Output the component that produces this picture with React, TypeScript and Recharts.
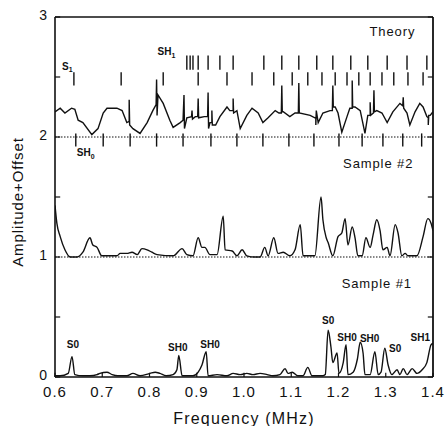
import { ComposedChart, Line, XAxis, YAxis, ReferenceLine, Scatter } from 'recharts';

// x / y axis
const xTicks = [0.6, 0.7, 0.8, 0.9, 1.0, 1.1, 1.2, 1.3, 1.4];
const yTicks = [0, 1, 2, 3];
const yMinorTicks = [0.5, 1.5, 2.5];

// theory curve (offset +2)
const theoryFreq = [
  0.600, 0.611, 0.621, 0.635, 0.642, 0.649, 0.659, 0.678, 0.691, 0.702, 0.710, 0.731, 0.742, 0.752,
  0.757, 0.757, 0.758, 0.765, 0.780, 0.795, 0.807, 0.814, 0.815, 0.816, 0.818, 0.829, 0.843, 0.850,
  0.865, 0.871, 0.873, 0.874, 0.879, 0.889, 0.890, 0.891, 0.897, 0.902, 0.903, 0.904, 0.916, 0.923,
  0.924, 0.925, 0.928, 0.932, 0.932, 0.933, 0.940, 0.949, 0.964, 0.970, 0.977, 0.977, 0.978, 0.985,
  0.992, 1.006, 1.017, 1.030, 1.040, 1.051, 1.066, 1.074, 1.079, 1.080, 1.081, 1.083, 1.097, 1.108,
  1.115, 1.116, 1.117, 1.140, 1.150, 1.152, 1.152, 1.153, 1.157, 1.167, 1.182, 1.187, 1.188, 1.189,
  1.193, 1.199, 1.207, 1.218, 1.224, 1.229, 1.229, 1.230, 1.235, 1.246, 1.256, 1.262, 1.267, 1.267,
  1.268, 1.274, 1.275, 1.276, 1.281, 1.292, 1.303, 1.315, 1.330, 1.336, 1.337, 1.338, 1.345, 1.351,
  1.362, 1.372, 1.379, 1.387, 1.390, 1.390, 1.391, 1.394, 1.400,
];
const theoryAmp = [
  2.21, 2.24, 2.20, 2.24, 2.23, 2.14, 2.12, 2.02, 2.07, 2.20, 2.24, 2.24, 2.22, 2.12,
  2.13, 2.31, 2.10, 2.07, 2.03, 2.12, 2.22, 2.27, 2.48, 2.18, 2.35, 2.28, 2.14, 2.08,
  2.12, 2.14, 2.35, 2.07, 2.16, 2.17, 2.22, 2.15, 2.17, 2.17, 2.32, 2.16, 2.17, 2.17,
  2.37, 2.07, 2.12, 2.12, 2.22, 2.10, 2.10, 2.17, 2.25, 2.22, 2.22, 2.32, 2.20, 2.22,
  2.07, 2.18, 2.24, 2.20, 2.12, 2.16, 2.22, 2.20, 2.20, 2.43, 2.21, 2.21, 2.17, 2.20,
  2.20, 2.45, 2.20, 2.18, 2.16, 2.16, 2.10, 2.22, 2.12, 2.20, 2.22, 2.22, 2.43, 2.25,
  2.25, 2.20, 2.04, 2.17, 2.24, 2.24, 2.47, 2.25, 2.25, 2.22, 2.03, 2.18, 2.18, 2.29,
  2.18, 2.20, 2.39, 2.21, 2.22, 2.20, 2.12, 2.21, 2.28, 2.26, 2.33, 2.24, 2.20, 2.10,
  2.21, 2.28, 2.25, 2.17, 2.16, 2.10, 2.18, 2.18, 2.21,
];

// sample #2 (offset +1)
const sample2Freq = [
  0.600, 0.604, 0.611, 0.621, 0.632, 0.647, 0.659, 0.674, 0.680, 0.689, 0.699, 0.731, 0.738, 0.752,
  0.763, 0.774, 0.784, 0.795, 0.805, 0.816, 0.850, 0.869, 0.879, 0.892, 0.903, 0.911, 0.917, 0.928,
  0.943, 0.956, 0.960, 0.975, 0.985, 0.996, 1.006, 1.023, 1.034, 1.044, 1.051, 1.063, 1.072, 1.083,
  1.097, 1.108, 1.119, 1.125, 1.150, 1.163, 1.167, 1.174, 1.178, 1.188, 1.199, 1.207, 1.214, 1.220,
  1.229, 1.235, 1.241, 1.250, 1.258, 1.267, 1.273, 1.281, 1.288, 1.294, 1.303, 1.309, 1.320, 1.326,
  1.334, 1.341, 1.347, 1.366, 1.379, 1.389, 1.396, 1.400,
];
const sample2Amp = [
  1.43, 1.28, 1.17, 1.06, 1.00, 1.00, 1.04, 1.16, 1.10, 1.08, 1.01, 1.01, 1.03, 1.03,
  1.04, 1.02, 1.07, 1.06, 1.04, 1.02, 1.01, 1.07, 1.02, 1.01, 1.16, 1.08, 1.08, 1.02,
  1.02, 1.34, 1.06, 1.05, 1.01, 1.06, 1.01, 1.00, 1.00, 1.08, 1.01, 1.16, 1.03, 1.04,
  1.01, 1.06, 1.27, 1.01, 1.01, 1.50, 1.31, 1.16, 1.12, 1.01, 1.17, 1.20, 1.32, 1.10,
  1.25, 1.16, 1.01, 1.01, 1.16, 1.08, 1.18, 1.31, 1.22, 1.06, 1.08, 1.01, 1.27, 1.20,
  1.01, 1.03, 1.01, 1.01, 1.17, 1.32, 1.28, 1.22,
];

// sample #1
const sample1Freq = [
  0.600, 0.611, 0.628, 0.636, 0.642, 0.659, 0.674, 0.689, 0.695, 0.710, 0.721, 0.733, 0.752, 0.765,
  0.780, 0.801, 0.812, 0.822, 0.835, 0.850, 0.858, 0.862, 0.869, 0.892, 0.903, 0.911, 0.920, 0.924,
  0.943, 0.964, 0.977, 0.992, 1.006, 1.019, 1.034, 1.049, 1.061, 1.076, 1.087, 1.093, 1.102, 1.114,
  1.125, 1.135, 1.144, 1.167, 1.172, 1.178, 1.184, 1.188, 1.197, 1.201, 1.210, 1.216, 1.220, 1.231,
  1.240, 1.246, 1.252, 1.256, 1.267, 1.277, 1.284, 1.290, 1.298, 1.305, 1.313, 1.324, 1.330, 1.337,
  1.345, 1.356, 1.366, 1.377, 1.387, 1.396, 1.400,
];
const sample1Amp = [
  0.01, 0.01, 0.03, 0.17, 0.02, 0.01, 0.01, 0.02, 0.03, 0.04, 0.02, 0.01, 0.01, 0.03,
  0.01, 0.03, 0.04, 0.03, 0.01, 0.02, 0.06, 0.18, 0.01, 0.01, 0.04, 0.10, 0.21, 0.01,
  0.02, 0.01, 0.03, 0.02, 0.03, 0.02, 0.03, 0.02, 0.01, 0.02, 0.07, 0.03, 0.04, 0.01,
  0.01, 0.08, 0.01, 0.01, 0.02, 0.39, 0.25, 0.12, 0.20, 0.03, 0.12, 0.27, 0.02, 0.04,
  0.15, 0.29, 0.20, 0.02, 0.02, 0.21, 0.02, 0.04, 0.24, 0.10, 0.02, 0.06, 0.02, 0.07,
  0.02, 0.07, 0.03, 0.06, 0.12, 0.27, 0.28,
];

// theoretical mode markers
const sh0Marks = [0.644, 0.702, 0.759, 0.815, 0.871, 0.930, 0.985, 1.040, 1.095, 1.148, 1.201, 1.250, 1.294, 1.336, 1.376];
const s1Marks = [0.640, 0.740, 0.829, 0.903, 0.964, 1.017, 1.063, 1.102, 1.135, 1.165, 1.193, 1.218, 1.243, 1.267, 1.292, 1.317, 1.347, 1.379];
const sh1Marks = [0.879, 0.886, 0.892, 0.903, 0.924, 0.949, 0.977, 1.042, 1.080, 1.116, 1.154, 1.188, 1.226, 1.262, 1.303, 1.345, 1.387];

// peak labels on sample #1
const peakLabels = ['S0', 'SH0', 'SH0', 'S0', 'SH0', 'SH0', 'S0', 'SH1'];
const peakLabelFreq = [0.638, 0.860, 0.928, 1.178, 1.218, 1.266, 1.320, 1.373];
const peakLabelAmp = [0.27, 0.25, 0.27, 0.47, 0.33, 0.32, 0.24, 0.33];

const panelTitles = ['Theory', 'Sample #2', 'Sample #1'];
const panelTitleFreq = [1.314, 1.284, 1.281];
const panelTitleAmp = [2.88, 1.78, 0.78];

// mode names with subscripts
const modeNames = ['S', 'SH', 'SH'];
const modeSubs = ['1', '1', '0'];
const modeFreq = [0.626, 0.836, 0.665];
const modeAmp = [2.59, 2.71, 1.87];

const toPoints = (fs: number[], vs: number[]) => fs.map((f, i) => ({ f, v: vs[i] }));
const theory = toPoints(theoryFreq, theoryAmp);
const sample2 = toPoints(sample2Freq, sample2Amp);
const sample1 = toPoints(sample1Freq, sample1Amp);
const peakData = peakLabels.map((label, i) => ({ f: peakLabelFreq[i], v: peakLabelAmp[i], label }));
const titleData = panelTitles.map((label, i) => ({ f: panelTitleFreq[i], v: panelTitleAmp[i], label }));
const modeData = modeNames.map((label, i) => ({ f: modeFreq[i], v: modeAmp[i], label, sub: modeSubs[i] }));

const INK = '#111';
const FONT = '"Liberation Sans", Arial, sans-serif';
const XT = 0.011; // tick length in MHz (~5px)
const YT = 0.035; // tick length in amplitude (~4px)

function YLabel({ viewBox }: { viewBox?: any }) {
  const x = (viewBox?.x ?? 0) + 17;
  const y = (viewBox?.y ?? 0) + (viewBox?.height ?? 0) / 2 + 5;
  return (
    <text x={x} y={y} transform={`rotate(-90, ${x}, ${y})`} textAnchor="middle" dominantBaseline="central"
      fontSize={15} fill={INK} fontFamily={FONT} letterSpacing={0.9}>
      Amplitude+Offset
    </text>
  );
}

export default function App() {
  return (
    <div style={{ position: 'absolute', left: 0, top: 0, width: 447, height: 426, background: '#fff', fontFamily: FONT }}>
      <ComposedChart width={447} height={426} margin={{ top: 17, right: 14, bottom: 0, left: 0 }}>
        <XAxis
          dataKey="f"
          type="number"
          domain={[0.6, 1.4]}
          ticks={xTicks}
          tickFormatter={(v) => Number(v).toFixed(1)}
          axisLine={false}
          tickLine={false}
          tickSize={0}
          tickMargin={9}
          height={49}
          allowDataOverflow
          tick={{ fontSize: 15, fill: INK, fontFamily: FONT, letterSpacing: 1 }}
          label={{ value: 'Frequency (MHz)', position: 'insideBottom', offset: 2, style: { fontSize: 16, fill: INK, fontFamily: FONT, letterSpacing: 1.2 } }}
        />
        <YAxis
          dataKey="v"
          type="number"
          domain={[0, 3]}
          ticks={yTicks}
          axisLine={false}
          tickLine={false}
          tickSize={0}
          tickMargin={8}
          width={55}
          allowDataOverflow
          tick={{ fontSize: 14, fill: INK, fontFamily: FONT, dy: -2 }}
          label={{ content: (props: any) => <YLabel viewBox={props.viewBox} /> }}
        />

        {/* panel separators */}
        <ReferenceLine y={1} stroke={INK} strokeWidth={1.2} strokeDasharray="1.5 1.5" />
        <ReferenceLine y={2} stroke={INK} strokeWidth={1.2} strokeDasharray="1.5 1.5" />

        <Line data={theory} dataKey="v" type="linear" stroke={INK} strokeWidth={1.4} dot={false} isAnimationActive={false} />
        <Line data={sample2} dataKey="v" type="monotone" stroke={INK} strokeWidth={1.4} dot={false} isAnimationActive={false} />
        <Line data={sample1} dataKey="v" type="monotone" stroke={INK} strokeWidth={1.4} dot={false} isAnimationActive={false} />

        {/* theory markers */}
        {s1Marks.map((f) => (
          <ReferenceLine key={'s1' + f} segment={[{ x: f, y: 2.43 }, { x: f, y: 2.54 }]} stroke={INK} strokeWidth={1.4} />
        ))}
        {sh1Marks.map((f) => (
          <ReferenceLine key={'sh1' + f} segment={[{ x: f, y: 2.56 }, { x: f, y: 2.68 }]} stroke={INK} strokeWidth={1.4} />
        ))}
        {sh0Marks.map((f) => (
          <ReferenceLine key={'sh0' + f} segment={[{ x: f, y: 1.92 }, { x: f, y: 2.03 }]} stroke={INK} strokeWidth={1.4} />
        ))}

        {/* inward ticks */}
        {[...yTicks, ...yMinorTicks].map((v) => (
          <ReferenceLine key={'yl' + v} segment={[{ x: 0.6, y: v }, { x: 0.6 + XT, y: v }]} stroke={INK} strokeWidth={1.2} />
        ))}
        {[...yTicks, ...yMinorTicks].map((v) => (
          <ReferenceLine key={'yr' + v} segment={[{ x: 1.4 - XT, y: v }, { x: 1.4, y: v }]} stroke={INK} strokeWidth={1.2} />
        ))}
        {xTicks.map((f) => (
          <ReferenceLine key={'xb' + f} segment={[{ x: f, y: 0 }, { x: f, y: YT }]} stroke={INK} strokeWidth={1.2} />
        ))}

        {/* frame */}
        <ReferenceLine x={0.6} stroke={INK} strokeWidth={1.6} />
        <ReferenceLine x={1.4} stroke={INK} strokeWidth={1.8} />
        <ReferenceLine y={0} stroke={INK} strokeWidth={1.6} />
        <ReferenceLine y={3} stroke={INK} strokeWidth={1.6} />

        <Scatter
          data={peakData}
          dataKey="v"
          isAnimationActive={false}
          shape={(p: any) => (
            <text x={p.cx} y={p.cy} textAnchor="middle" dominantBaseline="central" fontSize={10} fontWeight="bold" fill={INK} fontFamily={FONT}>
              {p.payload.label}
            </text>
          )}
        />
        <Scatter
          data={titleData}
          dataKey="v"
          isAnimationActive={false}
          shape={(p: any) => (
            <text x={p.cx} y={p.cy} textAnchor="middle" dominantBaseline="central" fontSize={13} fill={INK} fontFamily={FONT} letterSpacing={0.9}>
              {p.payload.label}
            </text>
          )}
        />
        <Scatter
          data={modeData}
          dataKey="v"
          isAnimationActive={false}
          shape={(p: any) => (
            <text x={p.cx} y={p.cy} textAnchor="middle" dominantBaseline="central" fontSize={10} fontWeight="bold" fill={INK} fontFamily={FONT}>
              {p.payload.label}
              <tspan fontSize={7} dy={3}>{p.payload.sub}</tspan>
            </text>
          )}
        />
      </ComposedChart>
    </div>
  );
}
